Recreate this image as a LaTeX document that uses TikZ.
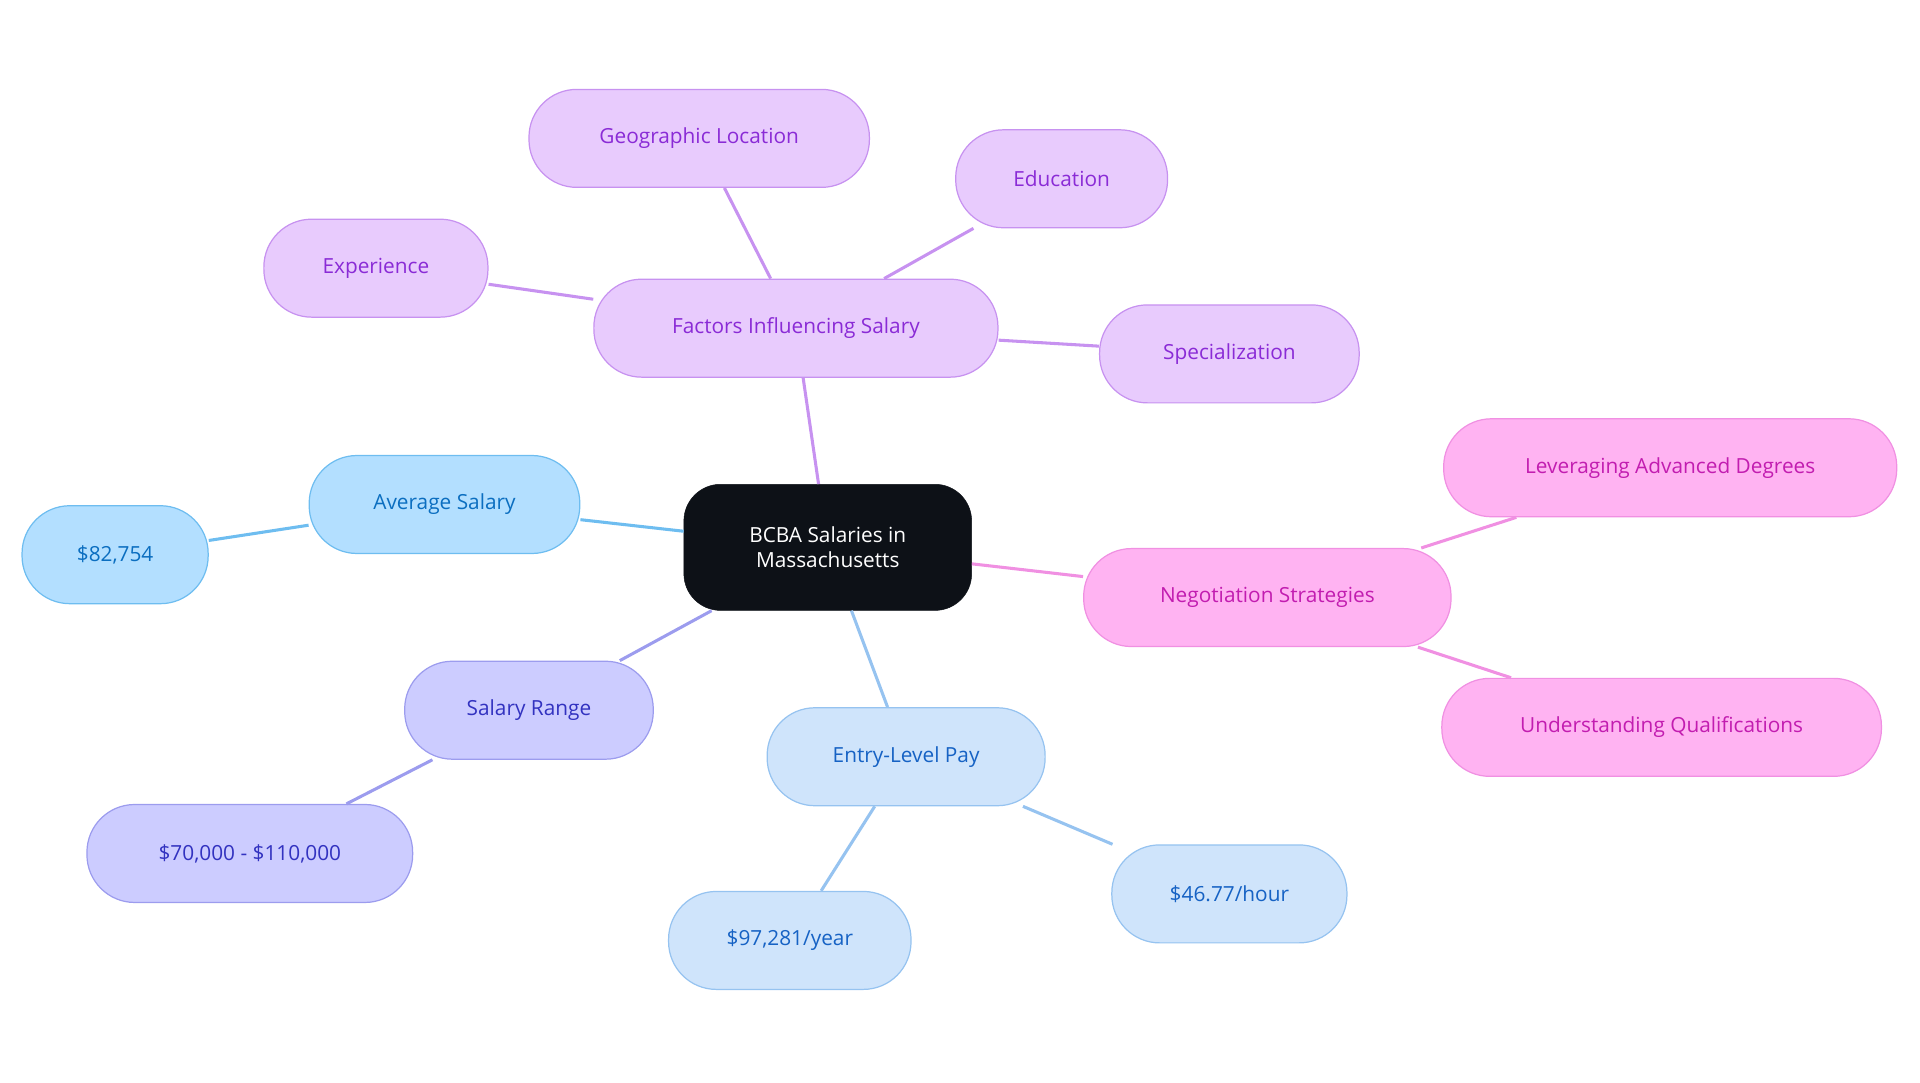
\documentclass[tikz,border=0pt]{standalone}
\usepackage{fontspec}
\setmainfont{Open Sans}
\usetikzlibrary{positioning}
\definecolor{rootfill}{HTML}{0D1117}
\definecolor{purfill}{HTML}{E8CBFD}\definecolor{purline}{HTML}{C792F0}\definecolor{purtext}{HTML}{8A2BD6}
\definecolor{avgfill}{HTML}{B3DFFF}\definecolor{avgline}{HTML}{6EBDF0}\definecolor{avgtext}{HTML}{0B6EC0}
\definecolor{rngfill}{HTML}{CCCCFF}\definecolor{rngline}{HTML}{9C9CEE}\definecolor{rngtext}{HTML}{3232C0}
\definecolor{entfill}{HTML}{CFE4FB}\definecolor{entline}{HTML}{96C3F0}\definecolor{enttext}{HTML}{1662C4}
\definecolor{negfill}{HTML}{FFB3F2}\definecolor{negline}{HTML}{F090E2}\definecolor{negtext}{HTML}{C21DB0}
\tikzset{
	topic/.style={draw=#1line, fill=#1fill, text=#1text, line width=1pt,
		rounded corners=39pt, minimum height=80pt, inner sep=0pt,
		font=\fontsize{17}{20}\selectfont},
	link/.style={draw=#1line, line width=2.5pt},
}
\begin{document}
\begin{tikzpicture}[x=1pt,y=-1pt]
	\useasboundingbox (0,0) rectangle (1568,884);
	% nodes
	\node[fill=rootfill, draw=rootfill, text=white, rounded corners=30pt, minimum width=235pt,
		minimum height=103pt, align=center, font=\fontsize{17}{20}\selectfont] (root) at (676,447)
		{BCBA Salaries in\\Massachusetts};
	\node[topic=pur, minimum width=330pt] (factors) at (650,268) {Factors Influencing Salary};
	\node[topic=pur, minimum width=278pt] (geo) at (571,113) {Geographic Location};
	\node[topic=pur, minimum width=173pt] (edu) at (867,146) {Education};
	\node[topic=pur, minimum width=183pt] (exp) at (307,219) {Experience};
	\node[topic=pur, minimum width=212pt] (spec) at (1004,289) {Specialization};
	\node[topic=avg, minimum width=221pt] (avg) at (363,412) {Average Salary};
	\node[topic=avg, minimum width=152pt] (avgval) at (94,453) {\$82,754};
	\node[topic=rng, minimum width=203pt] (range) at (432,580) {Salary Range};
	\node[topic=rng, minimum width=266pt] (rangeval) at (204,697) {\$70,000 - \$110,000};
	\node[topic=ent, minimum width=227pt] (entry) at (740,618) {Entry-Level Pay};
	\node[topic=ent, minimum width=198pt] (year) at (645,768) {\$97,281/year};
	\node[topic=ent, minimum width=192pt] (hour) at (1004,730) {\$46.77/hour};
	\node[topic=neg, minimum width=300pt] (neg) at (1035,488) {Negotiation Strategies};
	\node[topic=neg, minimum width=370pt] (lev) at (1364,382) {Leveraging Advanced Degrees};
	\node[topic=neg, minimum width=359pt] (und) at (1357,594) {Understanding Qualifications};
	% links
	\draw[link=pur] (root) -- (factors);
	\draw[link=pur] (factors) -- (geo);
	\draw[link=pur] (factors) -- (edu);
	\draw[link=pur] (factors) -- (exp);
	\draw[link=pur] (factors) -- (spec);
	\draw[link=avg] (root) -- (avg);
	\draw[link=avg] (avg) -- (avgval);
	\draw[link=rng] (root) -- (range);
	\draw[link=rng] (range) -- (rangeval);
	\draw[link=ent] (root) -- (entry);
	\draw[link=ent] (entry) -- (year);
	\draw[link=ent] (entry) -- (hour);
	\draw[link=neg] (root) -- (neg);
	\draw[link=neg] (neg) -- (lev);
	\draw[link=neg] (neg) -- (und);
\end{tikzpicture}
\end{document}
